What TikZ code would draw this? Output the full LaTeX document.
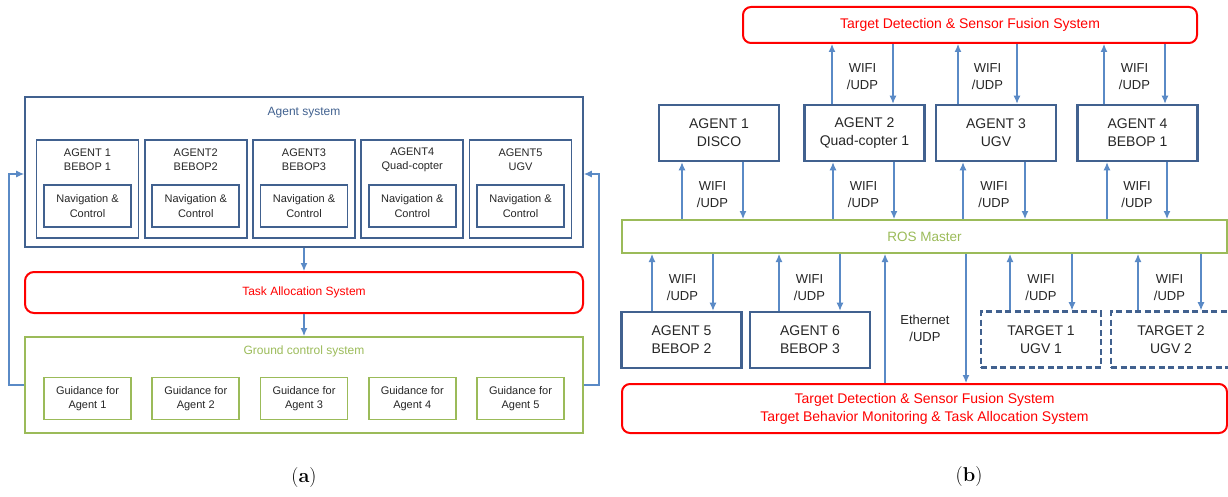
\documentclass[tikz,border=0pt]{standalone}
\usepackage{fontspec}
\newfontfamily\diafont{Liberation Sans}
\usetikzlibrary{arrows, arrows.meta, positioning, calc}
\definecolor{boxblue}{HTML}{41618F}
\definecolor{linkblue}{HTML}{5A8AC6}
\definecolor{gcs_green}{HTML}{9BBB59}
\definecolor{alloc_red}{HTML}{FF0000}
\definecolor{txtgray}{HTML}{262626}
\newcommand\panelafont{\diafont\fontsize{11}{14.5}\selectfont}
\newcommand\panelbfont{\diafont\fontsize{14}{18}\selectfont}
\tikzset{
  sysbox/.style={draw=boxblue,line width=1.8pt,minimum width=558pt,minimum height=150pt},
  agentbox/.style={draw=boxblue,line width=1.8pt,minimum width=102pt,minimum height=98pt},
  agenttitle/.style={align=center,text=txtgray,font=\panelafont,inner sep=0pt},
  navbox/.style={draw=boxblue,line width=1.8pt,minimum width=87pt,minimum height=42pt,inner sep=0pt,align=center,text=txtgray,font=\panelafont},
  guidebox/.style={navbox,draw=gcs_green},
  syslabel/.style={font=\diafont\fontsize{12}{14}\selectfont,inner sep=0pt},
  allocbox/.style={draw=alloc_red,line width=2pt,rounded corners=9pt,minimum width=558pt,minimum height=41pt,text=alloc_red,font=\diafont\fontsize{12}{14}\selectfont},
  gcsbox/.style={draw=gcs_green,line width=2pt,minimum width=558pt,minimum height=96pt},
  uavbox/.style={draw=boxblue,line width=2.6pt,minimum width=120pt,minimum height=56pt,align=center,text=txtgray,font=\panelbfont},
  targetbox/.style={uavbox,dashed,dash pattern=on 6pt off 3.5pt},
  fusionbox/.style={draw=alloc_red,line width=2pt,rounded corners=8pt,align=center,text=alloc_red,font=\panelbfont},
  rosbox/.style={draw=gcs_green,line width=2pt,minimum width=605pt,minimum height=33pt,text=gcs_green,font=\diafont\fontsize{13.5}{16}\selectfont},
  link/.style={linkblue,line width=1.1pt,-{Latex[length=8pt,width=7pt]}},
  wifi/.style={align=center,text=txtgray,font=\diafont\fontsize{13}{17}\selectfont,inner sep=0pt},
  caption/.style={font=\fontsize{20}{24}\selectfont},
}
\begin{document}
\begin{tikzpicture}[x=1pt,y=-1pt]
\useasboundingbox (0,0) rectangle (1228,497);
% (a)
\node[sysbox] (agsys) at (304,172) {};
\node[syslabel,text=boxblue] (agsyslbl) at (304,113) {Agent system};
\node[allocbox] (task) at (304,292.5) {Task Allocation System};
\node[gcsbox] (gcs) at (304,385) {};
\node[syslabel,text=gcs_green] (gcslbl) at (304,351) {Ground control system};
\foreach \i/\t in {1/{AGENT 1\\BEBOP 1}, 2/{AGENT2\\BEBOP2}, 3/{AGENT3\\BEBOP3}, 4/{AGENT4\\Quad-copter}, 5/{AGENT5\\UGV}} {
  \pgfmathsetmacro\cx{87.5+108.25*(\i-1)}
  \node[agentbox] (ag\i) at (\cx,189) {};
  \node[agenttitle] (agt\i) at ([yshift=-20.5pt]ag\i.north) {\t};
  \node[navbox,above=11pt of ag\i.south] (nav\i) {Navigation \&\\Control};
  \node[guidebox] (gd\i) at (\cx,398.5) {Guidance for\\Agent \i};
}
\draw[link] (agsys.south) -- (task.north);
\draw[link] (task.south) -- (gcs.north);
\draw[link] (gcs.west) -- ++(-15,0) |- ([yshift=-2pt]agsys.west);
\draw[link] (gcs.east) -- ++(15,0) |- ([yshift=-2pt]agsys.east);
\node[caption] (capa) at (304,478) {(\textbf{a})};
% (b)
\node[fusionbox,minimum width=454pt,minimum height=36pt] (tds) at (970,25) {Target Detection \& Sensor Fusion System};
\node[uavbox] (r1) at (719,133) {AGENT 1\\DISCO};
\node[uavbox] (r2) at (864.5,133) {AGENT 2\\Quad-copter 1};
\node[uavbox] (r3) at (996,133) {AGENT 3\\UGV};
\node[uavbox] (r4) at (1137.5,133) {AGENT 4\\BEBOP 1};
\node[rosbox] (ros) at (924.5,236.5) {ROS Master};
\node[uavbox] (r5) at (681.5,340) {AGENT 5\\BEBOP 2};
\node[uavbox] (r6) at (810,340) {AGENT 6\\BEBOP 3};
\node[targetbox] (tg1) at (1041,339.5) {TARGET 1\\UGV 1};
\node[targetbox] (tg2) at (1171,339.5) {TARGET 2\\UGV 2};
\node[fusionbox,minimum width=605pt,minimum height=49pt] (fusion) at (924.5,408.5) {Target Detection \& Sensor Fusion System\\Target Behavior Monitoring \& Task Allocation System};
\foreach \n/\u/\d in {r2/832/893, r3/958/1017, r4/1104/1165} {
  \draw[link] (\u,0 |- \n.north) -- (\u,0 |- tds.south);
  \draw[link] (\d,0 |- tds.south) -- (\d,0 |- \n.north);
  \node[wifi] (wt\n) at ({(\u+\d)/2},76.5) {WIFI\\/UDP};
}
\foreach \n/\u/\d in {r1/682/743, r2/833/894, r3/963/1025, r4/1107/1167} {
  \draw[link] (\u,0 |- ros.north) -- (\u,0 |- \n.south);
  \draw[link] (\d,0 |- \n.south) -- (\d,0 |- ros.north);
  \node[wifi] (wm\n) at ({(\u+\d)/2},194.5) {WIFI\\/UDP};
}
\foreach \n/\u/\d in {r5/652/713, r6/779/840, tg1/1010/1072, tg2/1138/1201} {
  \draw[link] (\u,0 |- \n.north) -- (\u,0 |- ros.south);
  \draw[link] (\d,0 |- ros.south) -- (\d,0 |- \n.north);
  \node[wifi] (wb\n) at ({(\u+\d)/2},288) {WIFI\\/UDP};
}
\draw[link] (885,0 |- fusion.north) -- (885,0 |- ros.south);
\draw[link] (966,0 |- ros.south) -- (966,0 |- fusion.north);
\node[wifi] (eth) at (925,328) {Ethernet\\/UDP};
\node[caption] (capb) at (969,477) {(\textbf{b})};
\end{tikzpicture}
\end{document}
